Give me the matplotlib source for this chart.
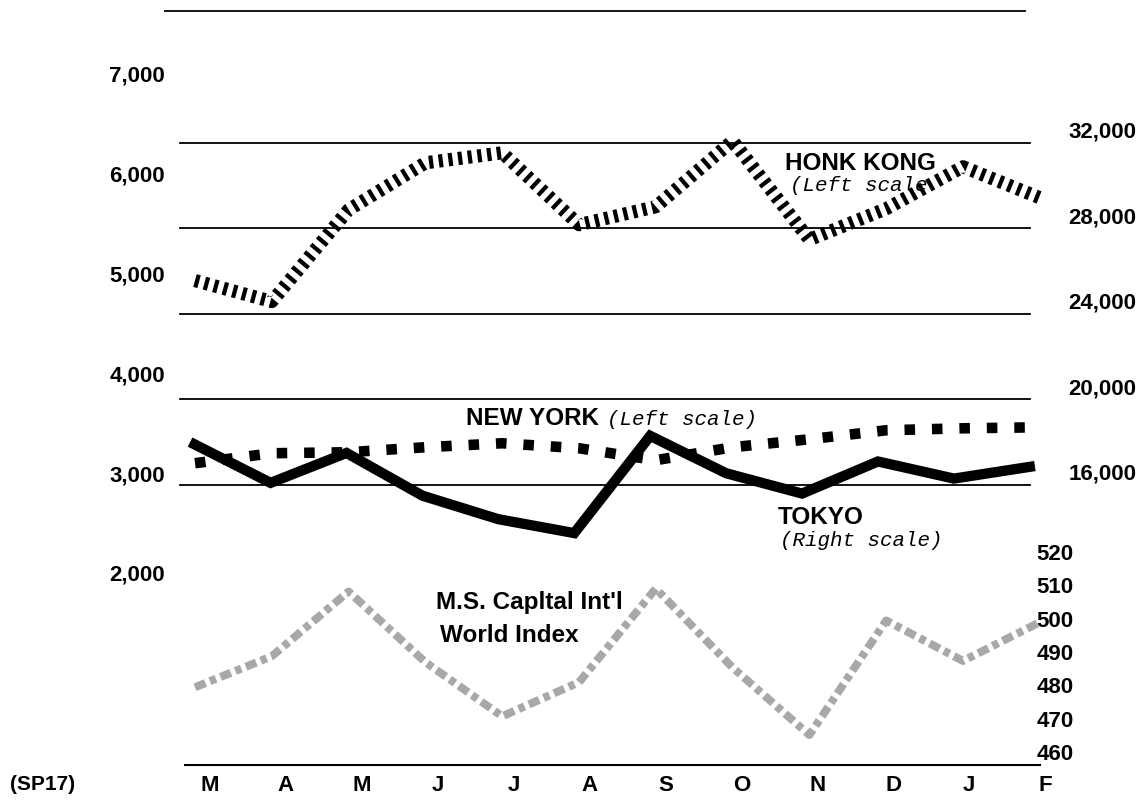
import matplotlib
matplotlib.use("Agg")
import matplotlib.pyplot as plt
from matplotlib.lines import Line2D
import numpy as np

# ---------------- data ----------------
months = ["M", "A", "M", "J", "J", "A", "S", "O", "N", "D", "J", "F"]
hong_kong = [4930, 4720, 5640, 6110, 6210, 5490, 5670, 6330, 5340, 5650, 6070, 5760]   # left scale
new_york = [3100, 3200, 3210, 3260, 3300, 3250, 3130, 3260, 3340, 3430, 3450, 3460]    # left scale
tokyo = [17900, 16100, 17500, 15500, 14400, 13750, 18300, 16550, 15600, 17100, 16300, 16850]  # right scale
world = [479.4, 488.7, 508.1, 486.9, 470.7, 480.9, 509.0, 485.3, 465.1, 499.4, 487.3, 498.9]  # inner right scale

left_ticks = [2000, 3000, 4000, 5000, 6000, 7000]
right_ticks = [16000, 20000, 24000, 28000, 32000]
world_ticks = [460, 470, 480, 490, 500, 510, 520]

W, H = 1142, 806
fig = plt.figure(figsize=(W / 100, H / 100), dpi=100)
fig.patch.set_facecolor("white")

SANS = "Liberation Sans"
MONO = "Liberation Mono"

def fx(x):
    return x / W

def fy(y):
    return 1 - y / H

# axes box in pixel coordinates
L, R, T, B = 165, 1045, 10, 765
rect = [fx(L), fy(B), (R - L) / W, (B - T) / H]

xlim = ((L - 195) / 76.8, (R - 195) / 76.8)
x = np.arange(len(months))

def make_ax(ylim):
    a = fig.add_axes(rect, facecolor="none")
    a.set_xlim(*xlim)
    a.set_ylim(*ylim)
    for s in a.spines.values():
        s.set_visible(False)
    a.tick_params(length=0)
    a.set_xticks([])
    return a

# left scale axes (Hong Kong, New York)
ax_left = make_ax((76.2, 7641))
# world index axes
ax_world = make_ax((456.1, 682.4))
# right scale axes (Tokyo)
ax_tok = make_ax((2900.6, 38222))

# gridlines on Tokyo scale
for v in right_ticks:
    ax_tok.axhline(v, xmin=(180 - L) / (R - L), xmax=(1030 - L) / (R - L),
                   color="black", lw=1.3, zorder=1)
# top rule and bottom axis rule
fig.add_artist(Line2D([fx(165), fx(1025)], [fy(11), fy(11)], color="black", lw=1.3))
fig.add_artist(Line2D([fx(185), fx(1040)], [fy(765), fy(765)], color="black", lw=1.5))

# ---------------- series ----------------
# Hong Kong: hatched "railroad" line
ax_left.plot(x, hong_kong, color="black", lw=9.5, dashes=(0.32, 0.42),
             solid_capstyle="butt", dash_capstyle="butt", zorder=3)
# New York: square dots
ax_left.plot(x, new_york, color="black", lw=7.6, dashes=(1.0, 1.6),
             dash_capstyle="butt", zorder=3)
# World index: grey chequered dashes
ax_world.plot(x, world, color="#a8a8a8", lw=5.8, dashes=(1.4, 0.6, 0.8, 0.6),
              dash_capstyle="butt", zorder=3)
# Tokyo: heavy solid line
ax_tok.plot(x, tokyo, color="black", lw=7.4, solid_joinstyle="miter", zorder=4)

# ---------------- ticks ----------------
tick_font = dict(family=SANS, weight="bold", size=16)

ax_left.yaxis.set_ticks_position("left")
ax_left.set_yticks(left_ticks)
ax_left.set_yticklabels([f"{v:,}" for v in left_ticks], **tick_font)
ax_left.tick_params(axis="y", pad=0)

ax_tok.yaxis.set_ticks_position("right")
ax_tok.set_yticks(right_ticks)
ax_tok.set_yticklabels([f"{v:,}" for v in right_ticks], va="bottom", **tick_font)
ax_tok.tick_params(axis="y", pad=17)

ax_world.yaxis.set_ticks_position("right")
ax_world.set_yticks(world_ticks)
ax_world.set_yticklabels([str(v) for v in world_ticks], **tick_font)
ax_world.tick_params(axis="y", pad=-6)

ax_tok.set_xticks(x + 0.2)
ax_tok.set_xticklabels(months, **tick_font)
ax_tok.tick_params(axis="x", pad=7)

fig.text(fx(10), fy(790), "(SP17)", ha="left", va="baseline",
         family=SANS, weight="bold", size=15)

# ---------------- labels ----------------
lab_font = dict(family=SANS, weight="bold", size=17.5)
note_font = dict(family=MONO, style="italic", size=15)

fig.text(fx(785), fy(170), "HONK KONG", ha="left", va="baseline", zorder=2, **lab_font)
fig.text(fx(790), fy(191), "(Left scale", ha="left", va="baseline", zorder=2, **note_font)
fig.text(fx(466), fy(425), "NEW YORK", ha="left", va="baseline", **lab_font)
fig.text(fx(607), fy(425), "(Left scale)", ha="left", va="baseline", **note_font)
fig.text(fx(778), fy(524), "TOKYO", ha="left", va="baseline", **lab_font)
fig.text(fx(780), fy(546), "(Right scale)", ha="left", va="baseline", **note_font)
fig.text(fx(436), fy(609), "M.S. Capltal Int'l", ha="left", va="baseline", **lab_font)
fig.text(fx(440), fy(642), "World Index", ha="left", va="baseline", **lab_font)

fig.savefig("out.png", dpi=100, facecolor="white")
